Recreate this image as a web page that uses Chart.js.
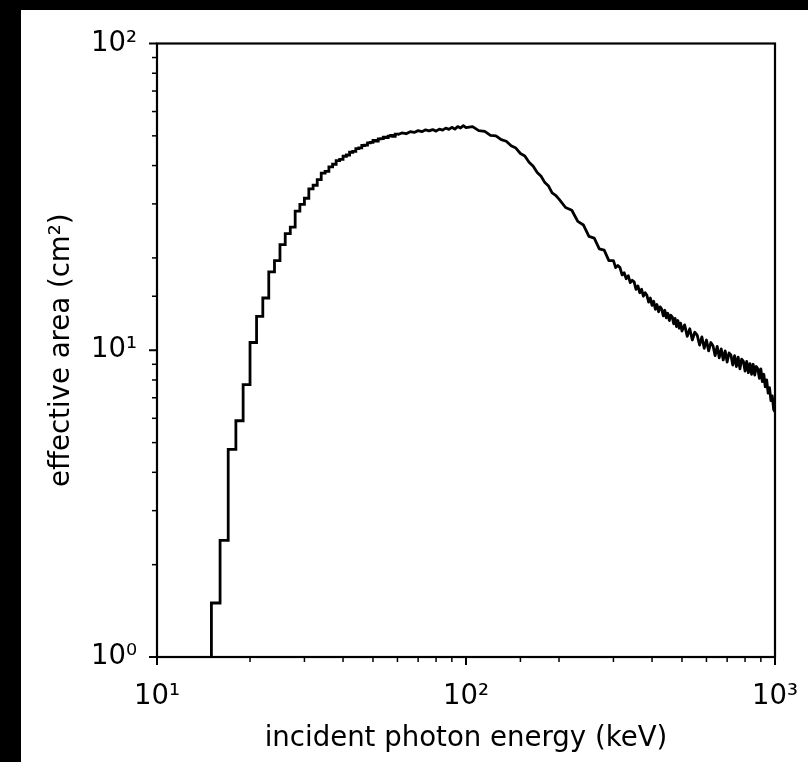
<!DOCTYPE html>
<html>
<head>
<meta charset="utf-8">
<script src="https://cdn.jsdelivr.net/npm/chart.js@4.4.0/dist/chart.umd.min.js"></script>
<style>
  html, body { margin: 0; padding: 0; background: #000; }
  #wrap { position: absolute; left: 21px; top: 10px; width: 787px; height: 752px; background: #fff; }
</style>
</head>
<body>
<div id="wrap"><canvas id="mycanvas" width="787" height="752"></canvas></div>
<script>
// bin left edges (keV) and effective area (cm^2)
// rising edge: 1 keV bins, drawn as a histogram
var energyLow = [14, 15, 16, 17, 18, 19, 20, 21, 22, 23, 24, 25, 26, 27, 28, 29, 30, 31, 32, 33, 34,
                 35, 36, 37, 38, 39, 40, 41, 42, 43, 44, 45, 46, 47, 48, 49, 50, 51, 52, 53, 54, 55, 56, 57, 58, 59, 60];
var areaLow   = [0.5, 1.50, 2.40, 4.75, 5.89, 7.73, 10.6, 12.9, 14.8, 18.0, 19.6, 22.1, 24.0, 25.2, 28.4, 29.9, 31.3, 33.6, 34.5, 36.0, 37.8,
                 38.3, 39.6, 40.4, 41.5, 41.9, 42.9, 43.3, 44.2, 44.5, 45.4, 45.7, 46.5, 46.6, 47.4, 47.6, 48.3, 48.1, 48.9, 49.0, 49.5, 49.3, 49.9, 50.2, 49.8, 50.6, 50.4];

// above 60 keV the bins are too narrow to show single steps: noisy trace
var energyMid = [60, 62, 64, 66, 68, 70, 72, 74, 76, 78, 80, 82, 84, 86, 88, 90, 92, 94, 96, 98];
var areaMid   = [50.4, 51.1, 50.8, 51.6, 51.3, 52.0, 51.6, 52.3, 51.9, 52.4, 51.8, 52.6, 52.2, 53.0, 52.5, 53.3, 52.6, 53.6, 53.0, 54.0];

var energyPeak = [100, 105, 110, 115, 120, 125, 130, 135, 140, 145, 150, 155, 160, 165, 170, 175, 180, 185, 190, 195,
                  200, 210, 220, 230, 240, 250, 260, 270, 280, 290];
var areaPeak   = [53.2, 53.6, 52.0, 51.7, 50.2, 50.0, 48.6, 48.0, 46.4, 45.6, 43.8, 43.0, 41.0, 39.8, 38.0, 36.9, 35.2, 34.3, 32.6, 32.0,
                  31.1, 29.2, 28.6, 26.3, 25.6, 23.5, 23.2, 21.4, 21.2, 19.6];

var energyTail = [300, 305, 310, 315, 320, 325, 330, 335, 340, 345, 350, 355, 360, 365, 370, 375, 380, 385, 390, 395,
                  400, 405, 410, 415, 420, 425, 430, 435, 440, 445, 450, 455, 460, 465, 470, 475, 480, 485, 490, 495, 500];
var areaTail   = [19.6, 18.6, 18.9, 18.6, 17.6, 17.9, 17.1, 17.5, 16.6, 16.9, 16.7, 15.8, 16.2, 15.4, 15.8, 15.0, 15.4, 15.1, 14.35, 14.8,
                  14.0, 14.45, 13.6, 14.1, 13.35, 13.85, 13.6, 12.95, 13.5, 12.75, 13.2, 12.5, 13.0, 12.85, 12.2, 12.7, 11.95, 12.5, 11.8, 12.25, 11.55];

var energyEnd = [510, 520, 530, 540, 550, 560, 570, 580, 590, 600, 610, 620, 630, 640, 650, 660, 670, 680, 690, 700,
                 710, 720, 730, 740, 750, 760, 770, 780, 790, 800, 810, 820, 830, 840, 850, 860, 870, 880, 890, 900,
                 910, 920, 930, 940, 950, 960, 970, 980, 990, 1000];
var areaEnd   = [12.1, 11.1, 11.75, 10.8, 11.45, 11.2, 10.4, 11.05, 10.15, 10.8, 9.95, 10.6, 10.35, 9.6, 10.3, 9.45, 10.1, 9.3, 9.95, 9.15,
                 9.8, 9.65, 8.95, 9.6, 8.85, 9.5, 8.7, 9.35, 9.2, 8.55, 9.2, 8.45, 9.05, 8.35, 9.0, 8.3, 8.85, 8.7, 8.1, 8.7,
                 7.9, 8.35, 7.6, 8.0, 7.25, 7.55, 6.85, 7.1, 6.4, 6.3];

var xDecades = [10, 100, 1000];
var xTickLabels = ['10\u00b9', '10\u00b2', '10\u00b3'];
var yDecades = [1, 10, 100];
var yTickLabels = ['10\u2070', '10\u00b9', '10\u00b2'];

function toPoints(xs, ys) {
    var pts = [];
    for (var i = 0; i < xs.length; i++) pts.push({x: xs[i], y: ys[i]});
    return pts;
}

var histPoints = toPoints(energyLow, areaLow);
var tracePoints = toPoints(energyMid.concat(energyPeak, energyTail, energyEnd),
                           areaMid.concat(areaPeak, areaTail, areaEnd));

function decadeIndex(list, v) {
    for (var k = 0; k < list.length; k++) {
        if (Math.abs(list[k] - v) < 1e-6 * list[k]) return k;
    }
    return -1;
}

var tickFont = {family: 'DejaVu Sans', size: 27.5};
var titleFont = {family: 'DejaVu Sans', size: 27.6};

// outward ticks (long for decades, short for the rest) and the box around the plot
var frameAndTicks = {
    id: 'frameAndTicks',
    afterDraw: function (chart) {
        var ctx = chart.ctx, a = chart.chartArea;
        var xs = chart.scales.x, ys = chart.scales.y;
        ctx.save();
        ctx.strokeStyle = '#000';
        xs.ticks.forEach(function (t) {
            var px = xs.getPixelForValue(t.value);
            var major = decadeIndex(xDecades, t.value) >= 0;
            ctx.lineWidth = major ? 2 : 1.5;
            ctx.beginPath();
            ctx.moveTo(px, a.bottom);
            ctx.lineTo(px, a.bottom + (major ? 8 : 5));
            ctx.stroke();
        });
        ys.ticks.forEach(function (t) {
            var py = ys.getPixelForValue(t.value);
            var major = decadeIndex(yDecades, t.value) >= 0;
            ctx.lineWidth = major ? 2 : 1.5;
            ctx.beginPath();
            ctx.moveTo(a.left, py);
            ctx.lineTo(a.left - (major ? 8 : 5), py);
            ctx.stroke();
        });
        ctx.lineWidth = 2.2;
        ctx.strokeRect(a.left, a.top, a.right - a.left, a.bottom - a.top);
        ctx.restore();
    }
};

var ctx = document.getElementById('mycanvas');

var chart = new Chart(ctx, {
    type: 'line',
    data: {
        datasets: [{
            label: 'effective area (histogram)',
            data: histPoints,
            stepped: true,
            borderColor: '#000',
            borderWidth: 2.8,
            pointRadius: 0,
            fill: false
        }, {
            label: 'effective area',
            data: tracePoints,
            borderColor: '#000',
            borderWidth: 2.8,
            borderJoinStyle: 'round',
            pointRadius: 0,
            tension: 0,
            fill: false
        }]
    },
    options: {
        responsive: false,
        animation: false,
        devicePixelRatio: 1,
        layout: {padding: {left: 0, right: 33, top: 33.5, bottom: 0}},
        plugins: {legend: {display: false}, tooltip: {enabled: false}},
        scales: {
            x: {
                type: 'logarithmic',
                min: 10,
                max: 1000,
                afterFit: function (s) { s.height = 105; s.paddingLeft = 0; s.paddingRight = 0; },
                grid: {display: false, drawTicks: true, tickLength: 8},
                border: {display: false},
                ticks: {
                    autoSkip: false,
                    maxRotation: 0,
                    padding: 15,
                    color: '#000',
                    font: tickFont,
                    callback: function (v) {
                        var k = decadeIndex(xDecades, v);
                        return k >= 0 ? xTickLabels[k] : '';
                    }
                },
                title: {
                    display: true,
                    text: 'incident photon energy (keV)',
                    color: '#000',
                    font: titleFont,
                    padding: {top: 0, bottom: 7}
                }
            },
            y: {
                type: 'logarithmic',
                min: 1,
                max: 100,
                afterFit: function (s) { s.width = 136; s.paddingTop = 0; s.paddingBottom = 0; },
                grid: {display: false, drawTicks: true, tickLength: 8},
                border: {display: false},
                ticks: {
                    autoSkip: false,
                    padding: 12,
                    color: '#000',
                    font: tickFont,
                    callback: function (v) {
                        var k = decadeIndex(yDecades, v);
                        return k >= 0 ? yTickLabels[k] : '';
                    }
                },
                title: {
                    display: true,
                    text: 'effective area (cm\u00b2)',
                    color: '#000',
                    font: titleFont,
                    padding: {top: 24, bottom: 0}
                }
            }
        }
    },
    plugins: [frameAndTicks]
});
</script>
</body>
</html>
